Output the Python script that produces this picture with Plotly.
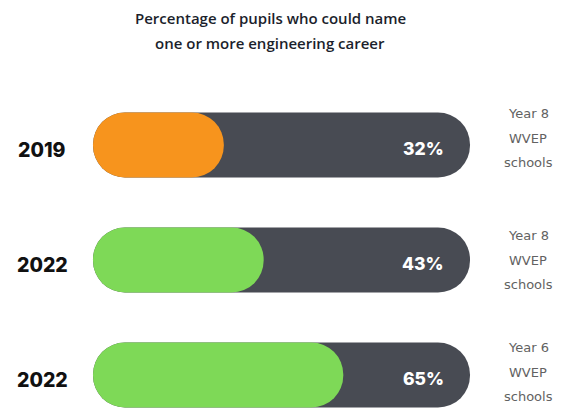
import plotly.graph_objects as go

# ---- data ----
years = ["2019", "2022", "2022"]
values = [32, 43, 65]
fill_colors = ["#F7941D", "#7ED957", "#7ED957"]
group_lines = [
    ["Year 8", "WVEP", "schools"],
    ["Year 8", "WVEP", "schools"],
    ["Year 6", "WVEP", "schools"],
]
title_lines = ["Percentage of pupils who could name", "one or more engineering career"]

# ---- geometry ----
W, H = 561, 408
X0_PX, PX_PER_PCT = 108.0, 3.62          # pixel of 0 % and pixels per percent
ROW0_PX, ROW_STEP_PX = 145.0, 115.0      # centre of first row, row spacing
BAR_PX = 65.0                            # pill thickness
TRACK_LEFT_PX = 93.0
TRACK_COLOR = "#484B53"

def px_to_x(px):
    return (px - X0_PX) / PX_PER_PCT

x_range = [px_to_x(0), px_to_x(W)]
y_range = [(H - ROW0_PX) / ROW_STEP_PX, -ROW0_PX / ROW_STEP_PX]
bar_w = BAR_PX / ROW_STEP_PX
track_left = px_to_x(TRACK_LEFT_PX)
rows = list(range(len(values)))

fig = go.Figure()

def pill(x_end, colors):
    fig.add_trace(go.Bar(
        y=rows, x=[e - track_left for e in x_end], base=track_left, orientation="h",
        width=bar_w, marker=dict(color=colors, line=dict(width=0), cornerradius="50%"),
        hoverinfo="skip", showlegend=False,
    ))

# grey tracks (full 100 %) and coloured fills
pill([100] * len(rows), [TRACK_COLOR] * len(rows))
pill(values, fill_colors)

ann = []
def px_note(text, px, py, size, color, family, xanchor="center", weight="normal"):
    ann.append(dict(
        text=text,
        x=px / W, y=1 - py / H, xref="paper", yref="paper",
        xanchor=xanchor, yanchor="middle", showarrow=False,
        font=dict(size=size, color=color, family=family, weight=weight),
    ))

# title
px_note(title_lines[0], 270, 18, 15, "#1C1F2C", "Open Sans", weight=600)
px_note(title_lines[1], 270, 43, 15, "#1C1F2C", "Open Sans", weight=600)

for i, (yr, v, lines) in enumerate(zip(years, values, group_lines)):
    cy = ROW0_PX + ROW_STEP_PX * i
    px_note(yr, 42, cy + 5, 19.5, "#111111", "Inter", weight=800)
    px_note(f"{v}%", 446, cy + 3, 17.5, "#FFFFFF", "Inter", xanchor="right", weight=800)
    block_cy = [138, 260, 372][i]
    for j, line in enumerate(lines):
        px_note(line, 528, block_cy + (j - 1) * 24.5, 13, "#626262", "DejaVu Sans")

fig.update_layout(
    width=W, height=H, margin=dict(l=0, r=0, t=0, b=0),
    paper_bgcolor="white", plot_bgcolor="white",
    barmode="overlay",
    xaxis=dict(range=x_range, visible=False, fixedrange=True),
    yaxis=dict(range=y_range, visible=False, fixedrange=True),
    annotations=ann,
)

fig.write_html("out.html")
